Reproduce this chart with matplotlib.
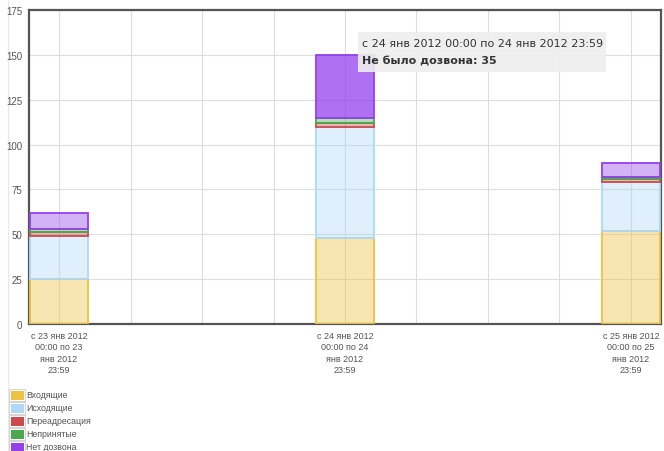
import numpy as np
import matplotlib
matplotlib.use("Agg")
import matplotlib.pyplot as plt
from matplotlib.patches import Rectangle

# ---- data ----
days = [0, 1, 2]
x_labels = ["с 23 янв 2012\n00:00 по 23\nянв 2012\n23:59",
            "с 24 янв 2012\n00:00 по 24\nянв 2012\n23:59",
            "с 25 янв 2012\n00:00 по 25\nянв 2012\n23:59"]
series_names = ["Входящие", "Исходящие", "Переадресация", "Непринятые", "Нет дозвона"]
incoming = [25, 48, 52]
outgoing = [24, 62, 27]
forwarded = [2, 2, 2]
missed = [2, 3, 1]
no_answer = [9, 35, 8]
series_values = [incoming, outgoing, forwarded, missed, no_answer]
colors = ["#edc240", "#afd8f8", "#cb4b4b", "#4da74d", "#9440ed"]
y_ticks = [0, 25, 50, 75, 100, 125, 150, 175]
tooltip_title = "с 24 янв 2012 00:00 по 24 янв 2012 23:59"
tooltip_value = "Не было дозвона: 35"
highlight = (4, 1)  # series index, bar index

# ---- figure ----
fig = plt.figure(figsize=(6.64, 4.52), dpi=100)
W, H = 664, 452

# page border line (behind everything)
fig.add_artist(plt.Line2D([7.5 / W, 7.5 / W], [0, 1], color="#e8e8e8",
                          linewidth=0.8, zorder=-5))

ax = fig.add_axes([29 / W, 1 - 325 / H, (661 - 29) / W, (325 - 11) / H])

bar_w = 0.2
bottom = np.zeros(len(days))
for si, (vals, c) in enumerate(zip(series_values, colors)):
    vals = np.array(vals, dtype=float)
    for bi in range(len(days)):
        a = 0.75 if (si, bi) == highlight else 0.4
        ax.bar(days[bi], vals[bi], width=bar_w, bottom=bottom[bi], color=c,
               alpha=a, edgecolor="none", zorder=2)
        ax.bar(days[bi], vals[bi], width=bar_w, bottom=bottom[bi], facecolor="none",
               edgecolor=c, linewidth=1.3, zorder=3)
    bottom += vals

ax.set_xlim(-0.105, 2.105)
ax.set_ylim(0, 175)
ax.set_yticks(y_ticks)
ax.set_yticklabels([str(v) for v in y_ticks])

xt = np.arange(0, 2.001, 0.25)
ax.set_xticks(xt)
labs = []
for t in xt:
    if abs(t - round(t)) < 1e-9:
        labs.append(x_labels[int(round(t))])
    else:
        labs.append("")
ax.set_xticklabels(labs, linespacing=1.35)
ax.tick_params(axis="x", length=0, labelsize=6.5, colors="#545454", pad=5)
ax.tick_params(axis="y", length=0, labelsize=7, colors="#545454", pad=5)
for lab in ax.get_xticklabels() + ax.get_yticklabels():
    lab.set_fontfamily("Liberation Sans")
    lab.set_color("#545454")
ax.grid(True, color="#dddddd", linewidth=0.8, zorder=0)
ax.set_axisbelow(True)
for s in ax.spines.values():
    s.set_color("#545454")
    s.set_linewidth(1.6)

# tooltip
tx0, ty0, tx1, ty1 = 358, 33, 606, 73
fig.add_artist(Rectangle((tx0 / W, 1 - ty1 / H), (tx1 - tx0) / W, (ty1 - ty0) / H,
                         transform=fig.transFigure, facecolor="#eeeeee",
                         edgecolor="none", alpha=0.9, zorder=10))
fig.text(362 / W, 1 - 44 / H, tooltip_title, fontsize=8, family="DejaVu Sans",
         color="#333333", va="center", ha="left", zorder=11)
fig.text(362 / W, 1 - 62 / H, tooltip_value, fontsize=8, family="DejaVu Sans",
         color="#333333", fontweight="bold", va="center", ha="left", zorder=11)

# legend
for i, (name, c) in enumerate(zip(series_names, colors)):
    yc = 396 + 13 * i
    fig.add_artist(Rectangle((9 / W, 1 - (yc + 6) / H), 16 / W, 12 / H,
                             transform=fig.transFigure, facecolor="#ffffff",
                             edgecolor="#cccccc", linewidth=0.6))
    fig.add_artist(Rectangle((10.5 / W, 1 - (yc + 4.5) / H), 13 / W, 9 / H,
                             transform=fig.transFigure, facecolor=c,
                             edgecolor="none"))
    fig.text(26 / W, 1 - yc / H, name, fontsize=6.3, family="Liberation Sans",
             color="#545454", va="center", ha="left")

fig.savefig("out.png", dpi=100)
